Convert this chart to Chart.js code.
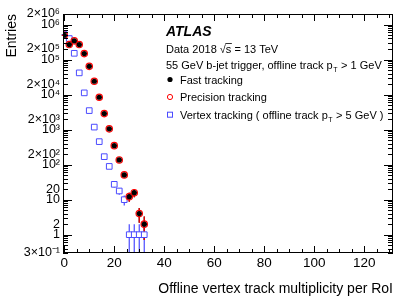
<!DOCTYPE html>
<html>
<head>
<meta charset="utf-8">
<script src="https://cdn.jsdelivr.net/npm/chart.js@4.4.1/dist/chart.umd.min.js"></script>
<style>
  html, body { margin: 0; padding: 0; background: #fff; }
  #wrap { width: 415px; height: 298px; }
</style>
</head>
<body>
<div id="wrap"><canvas id="chart" width="415" height="298"></canvas></div>
<script>
// offline vertex track multiplicity (bin centres, bin width 2)
const multiplicity = [0, 2, 4, 6, 8, 10, 12, 14, 16, 18, 20, 22, 24, 26, 28, 30, 32];
const binHalfWidth = 1;

const fastEntries = [4.95e5, 2.68e5, 3.42e5, 2.68e5, 1.48e5, 6.4e4, 2.4e4, 8.4e3, 2.87e3, 1.05e3, 349, 136, 51, 12.2, 15.8, 4, 2];
const fastErr = [0, 0, 0, 0, 0, 0, 0, 0, 0, 0, 0, 12, 7, 3.5, 4, 1.8, 1.3];
const precisionEntries = [4.95e5, 2.68e5, 3.42e5, 2.68e5, 1.48e5, 6.4e4, 2.4e4, 8.4e3, 2.87e3, 1.05e3, 349, 136, 51, 12.2, 15.8, 4, 2];
const precisionErr = [0, 0, 0, 0, 0, 0, 0, 0, 0, 0, 0, 12, 7, 3.5, 4, 1.8, 1.3];
const vertexEntries = [5.2e5, 3.98e5, 1.51e5, 4.17e4, 1.12e4, 3.49e3, 1.18e3, 454, 169, 89, 27.4, 17.7, 10, 1, 1, 1, 1];
const vertexErr = [0, 0, 0, 0, 0, 0, 0, 0, 0, 9, 5, 4, 3.2, 1, 1, 1, 1];

const xTickValues = [0, 20, 40, 60, 80, 100, 120];
const yTickValues = [0.3, 1, 2, 10, 20, 100, 200, 1e3, 2e3, 1e4, 2e4, 1e5, 2e5, 1e6, 2e6];
const yTickLabels = ['3×10⁻¹', '1', '2', '10', '20', '10²', '2×10²', '10³', '2×10³', '10⁴', '2×10⁴', '10⁵', '2×10⁵', '10⁶', '2×10⁶'];

const FONT = '"Liberation Sans", Arial, Helvetica, sans-serif';
const BLUE = '#4b4bff';
const RED = '#ff0000';

function points(values) {
  return multiplicity.map((m, i) => ({ x: m, y: values[i] }));
}

// error bars drawn through the chart scales
const errorBars = {
  id: 'errorBars',
  beforeDatasetsDraw(chart) {
    const { ctx, scales: { x, y }, chartArea: a } = chart;
    const sets = [
      { vals: vertexEntries, err: vertexErr, color: BLUE },
      { vals: fastEntries, err: fastErr, color: '#000' },
      { vals: precisionEntries, err: precisionErr, color: RED }
    ];
    ctx.save();
    ctx.lineWidth = 1.2;
    sets.forEach(s => {
      ctx.strokeStyle = s.color;
      ctx.beginPath();
      multiplicity.forEach((m, i) => {
        const v = s.vals[i];
        const px = x.getPixelForValue(m);
        const py = y.getPixelForValue(v);
        const lo = v - s.err[i];
        const pLo = lo > y.min ? y.getPixelForValue(lo) : a.bottom;
        const pHi = y.getPixelForValue(v + s.err[i]);
        ctx.moveTo(px, pLo); ctx.lineTo(px, pHi);
        ctx.moveTo(x.getPixelForValue(m - binHalfWidth), py);
        ctx.lineTo(x.getPixelForValue(m + binHalfWidth), py);
      });
      ctx.stroke();
    });
    ctx.restore();
  }
};

// ROOT style frame with inward ticks on all four sides
const frameTicks = {
  id: 'frameTicks',
  afterDatasetsDraw(chart) {
    const { ctx, chartArea: a, scales: { x, y } } = chart;
    ctx.save();
    ctx.strokeStyle = '#000';
    ctx.lineWidth = 1;
    ctx.beginPath();
    for (let v = 0; v <= 130; v += 5) {
      const px = Math.round(x.getPixelForValue(v)) + 0.5;
      const len = v % 20 === 0 ? 7 : 4;
      ctx.moveTo(px, a.bottom); ctx.lineTo(px, a.bottom - len);
      ctx.moveTo(px, a.top); ctx.lineTo(px, a.top + len);
    }
    for (let e = -1; e <= 6; e++) {
      for (let k = 1; k <= 9; k++) {
        const v = k * Math.pow(10, e);
        if (v < y.min || v > y.max) continue;
        const py = Math.round(y.getPixelForValue(v)) + 0.5;
        const len = k === 1 ? 9 : 5;
        ctx.moveTo(a.left, py); ctx.lineTo(a.left + len, py);
        ctx.moveTo(a.right, py); ctx.lineTo(a.right - len, py);
      }
    }
    ctx.stroke();
    ctx.strokeRect(Math.round(a.left) + 0.5, Math.round(a.top) + 0.5,
      Math.round(a.right - a.left) - 1, Math.round(a.bottom - a.top) - 1);
    ctx.restore();
  }
};

// "p_T" helper: draws text with a subscript T
function drawWithPt(ctx, before, after, x, y) {
  ctx.font = '11px ' + FONT;
  ctx.fillText(before, x, y);
  x += ctx.measureText(before).width;
  ctx.font = '7px ' + FONT;
  ctx.fillText('T', x + 0.5, y + 3);
  x += ctx.measureText('T').width + 1;
  ctx.font = '11px ' + FONT;
  ctx.fillText(after, x, y);
}

const labels = {
  id: 'labels',
  afterDraw(chart) {
    const ctx = chart.ctx;
    ctx.save();
    ctx.fillStyle = '#000';
    ctx.textBaseline = 'alphabetic';
    ctx.textAlign = 'left';
    ctx.font = 'italic bold 14px ' + FONT;
    ctx.fillText('ATLAS', 166, 35.5);

    ctx.font = '11px ' + FONT;
    let tx = 166;
    ctx.fillText('Data 2018 ', tx, 52.5);
    tx += ctx.measureText('Data 2018 ').width;
    ctx.fillText('√s', tx, 52.5);
    const sqrtW = ctx.measureText('√').width;
    const sW = ctx.measureText('s').width;
    ctx.strokeStyle = '#000';
    ctx.lineWidth = 0.8;
    ctx.beginPath();
    ctx.moveTo(tx + sqrtW - 0.5, 43.5); ctx.lineTo(tx + sqrtW + sW + 0.5, 43.5);
    ctx.stroke();
    tx += ctx.measureText('√s').width;
    ctx.fillText(' = 13 TeV', tx, 52.5);

    drawWithPt(ctx, '55 GeV b-jet trigger, offline track p', ' > 1 GeV', 166, 69);

    // legend
    const mx = 170, tx2 = 180;
    const rows = [83.5, 101, 118.7];
    ctx.fillStyle = '#000';
    ctx.beginPath(); ctx.arc(mx, rows[0] - 4, 2.6, 0, Math.PI * 2); ctx.fill();
    ctx.fillText('Fast tracking', tx2, rows[0]);
    ctx.strokeStyle = RED; ctx.lineWidth = 1;
    ctx.beginPath(); ctx.arc(mx, rows[1] - 4, 2.6, 0, Math.PI * 2); ctx.stroke();
    ctx.fillText('Precision tracking', tx2, rows[1]);
    ctx.strokeStyle = BLUE;
    ctx.strokeRect(mx - 2.5, rows[2] - 6.5, 5, 5);
    drawWithPt(ctx, 'Vertex tracking ( offline track p', ' > 5 GeV )', tx2, rows[2]);
    ctx.restore();
  }
};

new Chart(document.getElementById('chart'), {
  type: 'scatter',
  data: {
    datasets: [
      {
        label: 'Fast tracking',
        data: points(fastEntries),
        pointStyle: 'circle',
        pointRadius: 2.6,
        backgroundColor: '#000',
        borderColor: '#000',
        borderWidth: 0,
        order: 1
      },
      {
        label: 'Precision tracking',
        data: points(precisionEntries),
        pointStyle: 'circle',
        pointRadius: 3.2,
        backgroundColor: 'rgba(0,0,0,0)',
        borderColor: RED,
        borderWidth: 1.2,
        order: 2
      },
      {
        label: 'Vertex tracking',
        data: points(vertexEntries),
        pointStyle: 'rect',
        pointRadius: 4,
        backgroundColor: '#fff',
        borderColor: BLUE,
        borderWidth: 1,
        order: 3
      }
    ]
  },
  options: {
    responsive: false,
    animation: false,
    events: [],
    layout: { padding: { top: 14, right: 22, left: 0, bottom: 0 } },
    plugins: { legend: { display: false }, tooltip: { enabled: false } },
    scales: {
      x: {
        type: 'linear',
        min: -0.5,
        max: 131.5,
        grid: { display: false, drawTicks: false },
        border: { display: false },
        afterBuildTicks: s => { s.ticks = xTickValues.map(v => ({ value: v })); },
        afterFit: s => { s.height = 45; },
        ticks: { font: { family: FONT, size: 13.5 }, color: '#000', padding: 2, maxRotation: 0, autoSkip: false },
        title: {
          display: true, text: 'Offline vertex track multiplicity per RoI', align: 'end',
          font: { family: FONT, size: 14 }, color: '#000', padding: { top: 0, bottom: 0 }
        }
      },
      y: {
        type: 'logarithmic',
        min: 0.3,
        max: 2e6,
        grid: { display: false, drawTicks: false },
        border: { display: false },
        afterBuildTicks: s => { s.ticks = yTickValues.map(v => ({ value: v })); },
        afterFit: s => { s.width = 63; },
        ticks: {
          font: { family: FONT, size: 12.5 }, color: '#000', padding: 3, autoSkip: false,
          callback: v => yTickLabels[yTickValues.indexOf(v)]
        },
        title: {
          display: true, text: 'Entries', align: 'end',
          font: { family: FONT, size: 14 }, color: '#000', padding: { top: 4, bottom: 0 }
        }
      }
    }
  },
  plugins: [errorBars, frameTicks, labels]
});
</script>
</body>
</html>
